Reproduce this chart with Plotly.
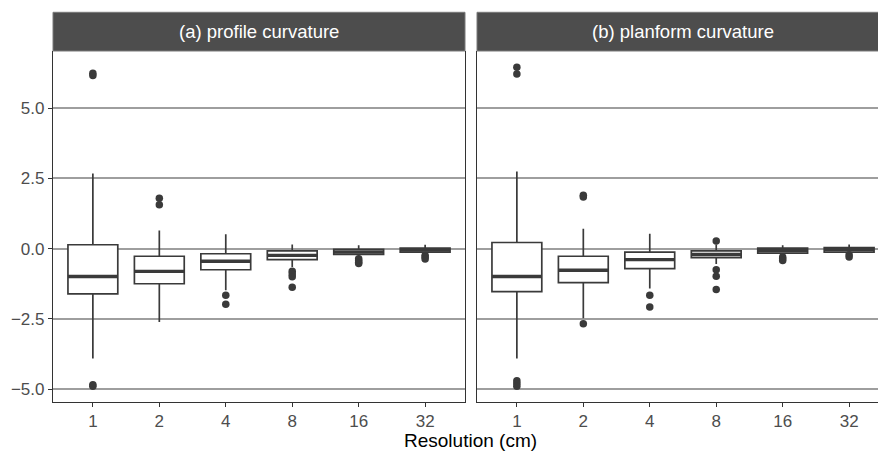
import plotly.graph_objects as go

resolutions = ["1", "2", "4", "8", "16", "32"]

# Panel (a) profile curvature
a_upper = [2.68, 0.65, 0.51, 0.15, 0.12, 0.14]
a_q3 = [0.14, -0.27, -0.18, -0.08, -0.02, 0.02]
a_median = [-0.99, -0.81, -0.45, -0.24, -0.12, -0.05]
a_q1 = [-1.61, -1.25, -0.75, -0.39, -0.20, -0.12]
a_lower = [-3.91, -2.61, -1.48, -0.65, -0.30, -0.20]
a_out_x = ["1", "1", "1", "1", "2", "2", "4", "4", "8", "8", "8", "8",
           "16", "16", "16", "16", "32", "32", "32"]
a_out_y = [6.17, 6.25, -4.85, -4.9, 1.80, 1.56, -1.66, -1.98, -0.80, -0.90, -1.00, -1.37,
           -0.36, -0.42, -0.48, -0.53, -0.24, -0.30, -0.37]

# Panel (b) planform curvature
b_upper = [2.75, 0.71, 0.53, 0.15, 0.12, 0.15]
b_q3 = [0.22, -0.27, -0.12, -0.08, 0.02, 0.04]
b_median = [-0.99, -0.77, -0.39, -0.21, -0.07, -0.03]
b_q1 = [-1.53, -1.21, -0.71, -0.32, -0.16, -0.12]
b_lower = [-3.91, -2.48, -1.42, -0.55, -0.25, -0.18]
b_out_x = ["1", "1", "1", "1", "1", "2", "2", "2", "4", "4", "8", "8", "8", "8",
           "16", "16", "16", "32", "32"]
b_out_y = [6.46, 6.22, -4.70, -4.80, -4.90, 1.90, 1.84, -2.67, -1.66, -2.08, 0.27, -0.75, -0.98, -1.45,
           -0.30, -0.36, -0.42, -0.22, -0.30]

titles = ["(a) profile curvature", "(b) planform curvature"]
x_title = "Resolution (cm)"
y_ticks = [-5.0, -2.5, 0.0, 2.5, 5.0]

W, H = 878, 456
INK = "#3A3A3A"
BOX_W = 0.75

pos = {c: i for i, c in enumerate(resolutions)}

# pixel geometry
pl_top, pl_bot = 51, 401.7
strip_top = 12.3
ax_a = (53 / W, 465 / W)
ax_b = (477 / W, 1.0)
unit_px = (465 - 53) / 6.2
y_dom = ((H - pl_bot) / H, (H - pl_top) / H)

fig = go.Figure()

panels = [
    ("x", "y", a_upper, a_q3, a_median, a_q1, a_lower, a_out_x, a_out_y),
    ("x2", "y2", b_upper, b_q3, b_median, b_q1, b_lower, b_out_x, b_out_y),
]
for xa, ya, up, q3, med, q1, lo, ox, oy in panels:
    xs = [pos[c] for c in resolutions]
    fig.add_trace(go.Box(
        x=xs, q1=q1, median=med, q3=q3, lowerfence=lo, upperfence=up,
        width=BOX_W, whiskerwidth=0, boxpoints=False,
        fillcolor="white", line=dict(color=INK, width=1.7),
        xaxis=xa, yaxis=ya, showlegend=False, hoverinfo="skip"))
    # thicker median line (ggplot fatten)
    mx, my = [], []
    for c, m in zip(resolutions, med):
        mx += [pos[c] - BOX_W / 2, pos[c] + BOX_W / 2, None]
        my += [m, m, None]
    fig.add_trace(go.Scatter(x=mx, y=my, mode="lines", line=dict(color=INK, width=3.4),
                             xaxis=xa, yaxis=ya, showlegend=False, hoverinfo="skip"))
    fig.add_trace(go.Scatter(x=[pos[c] for c in ox], y=oy, mode="markers",
                             marker=dict(color=INK, size=7.5, line=dict(width=0)),
                             xaxis=xa, yaxis=ya, showlegend=False, hoverinfo="skip"))

tick_font = dict(family="Liberation Sans, Arial, sans-serif", size=17, color="#4D4D4D")
common_x = dict(tickmode="array", tickvals=list(range(6)), ticktext=resolutions,
                showgrid=False, zeroline=False, showline=True, linecolor="#333333", linewidth=1.3,
                ticks="outside", ticklen=4, tickcolor="#333333", tickwidth=1.3,
                tickfont=tick_font)
common_y = dict(range=[-5.45, 7.04], tickvals=y_ticks, showgrid=True, gridcolor="#9E9E9E",
                gridwidth=1.6, zeroline=False, showline=True, linecolor="#333333", linewidth=1.3,
                domain=list(y_dom))

fig.update_layout(
    width=W, height=H, margin=dict(l=0, r=0, t=0, b=0),
    plot_bgcolor="white", paper_bgcolor="white", boxmode="overlay",
    xaxis=dict(**common_x, anchor="y", domain=list(ax_a), range=[-0.6, 5.6]),
    xaxis2=dict(**common_x, anchor="y2", domain=list(ax_b),
                range=[-0.6, -0.6 + (W - 477) / unit_px]),
    yaxis=dict(**common_y, anchor="x", mirror=True, ticks="outside", ticklen=4,
               tickcolor="#333333", tickwidth=1.3, tickformat=".1f", tickfont=tick_font),
    yaxis2=dict(**common_y, anchor="x2", showticklabels=False, ticks=""),
)

# strips
for (x0, x1), t in zip([ax_a, (477 / W, (477 + 412) / W)], titles):
    fig.add_shape(type="rect", xref="paper", yref="paper", x0=x0, x1=x1,
                  y0=(H - pl_top) / H, y1=(H - strip_top) / H,
                  fillcolor="#4D4D4D", line=dict(color="#7A7A7A", width=1), layer="above")
    fig.add_annotation(text=t, xref="paper", yref="paper", x=(x0 + x1) / 2,
                       y=(H - (pl_top + strip_top) / 2) / H, showarrow=False,
                       xanchor="center", yanchor="middle",
                       font=dict(family="Liberation Sans, Arial, sans-serif", size=18.5, color="white"))

fig.add_annotation(text=x_title, xref="paper", yref="paper", x=(53 + 889) / 2 / W,
                   y=(H - 440) / H, showarrow=False, xanchor="center", yanchor="middle",
                   font=dict(family="Liberation Sans, Arial, sans-serif", size=19, color="black"))

fig.write_html("out.html")
